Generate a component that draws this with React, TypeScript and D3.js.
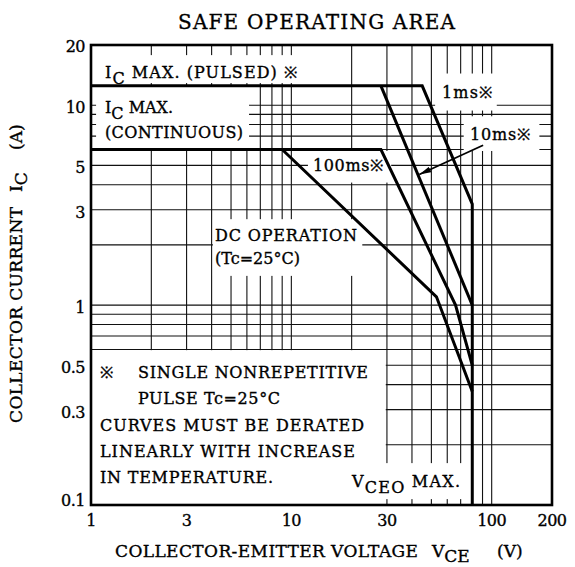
import React from "react";
import * as d3 from "d3";

// ---- data ----
const xTickValues = [1, 3, 10, 30, 100, 200];
const yTickValues = [0.1, 0.3, 0.5, 1, 3, 5, 10, 20];
const xGridValues = [2, 3, 4, 5, 6, 7, 8, 9, 10, 20, 30, 40, 50, 60, 70, 80, 90, 100];
const yGridValues = [0.2, 0.3, 0.4, 0.5, 0.6, 0.7, 0.8, 0.9, 1, 2, 3, 4, 5, 6, 7, 8, 9, 10];

// [VCE (V), IC (A)]
const curve1ms: [number, number][] = [[1, 12.5], [45, 12.5], [80, 3.2], [80, 0.1]];
const curve10ms: [number, number][] = [[28, 12.5], [80, 1.0]];
const curve100ms: [number, number][] = [[1, 6], [28, 6], [66, 1.0], [80, 0.5]];
const curveDC: [number, number][] = [[9, 6], [53, 1.1], [80, 0.37]];
const arrow10ms: [number, number][] = [[90.6, 6.3], [43.5, 4.5]];

// white label boxes that cut the grid, in data units [x0, x1, y0, y1]
const labelBoxes: [number, number, number, number][] = [
  [1.01, 11.5, 12.9, 17.8],
  [1.06, 6.15, 6, 12.5],
  [52.2, 106, 9.4, 14.4],
  [72.5, 173, 5.9, 8.8],
  [12.1, 31.5, 4.1, 5.9],
  [4.06, 22.6, 1.4, 2.69],
  [1.01, 29.6, 0.1, 0.595],
  [29.6, 76, 0.107, 0.162],
];

const W = 575;
const H = 567;
const FONT = "'DejaVu Serif', 'Liberation Serif', serif";

export default function App() {
  const x = d3.scaleLog().domain([1, 200]).range([91, 552]);
  const y = d3.scaleLog().domain([0.1, 20]).range([505, 45]);
  const line = d3
    .line<[number, number]>()
    .x((d) => x(d[0]))
    .y((d) => y(d[1]));

  const curves = [curve1ms, curve10ms, curve100ms, curveDC];

  const T = (props: any) => (
    <text
      fontFamily={FONT}
      fontSize={16}
      fill="#000"
      stroke="#000"
      strokeWidth={0.35}
      lengthAdjust="spacing"
      style={{ whiteSpace: "pre" }}
      {...props}
    />
  );

  return (
    <svg
      width={W}
      height={H}
      style={{ position: "absolute", left: 0, top: 0, background: "#fff" }}
    >
      <defs>
        <marker
          id="arrowHead"
          viewBox="0 0 12 6"
          refX={12}
          refY={3}
          markerWidth={12}
          markerHeight={6}
          markerUnits="userSpaceOnUse"
          orient="auto"
        >
          <path d="M0,0 L12,3 L0,6 z" fill="#000" />
        </marker>
      </defs>
      <rect x={0} y={0} width={W} height={H} fill="#fff" />

      {/* grid */}
      <g stroke="#111" strokeWidth={1.1}>
        {xGridValues.map((v) => (
          <line key={"gx" + v} x1={x(v)} x2={x(v)} y1={y(20)} y2={y(0.1)} />
        ))}
        {yGridValues.map((v) => (
          <line key={"gy" + v} x1={x(1)} x2={x(200)} y1={y(v)} y2={y(v)} />
        ))}
      </g>

      {/* label boxes */}
      <g fill="#fff">
        {labelBoxes.map((b, i) => (
          <rect
            key={"b" + i}
            x={x(b[0])}
            y={y(b[3])}
            width={x(b[1]) - x(b[0])}
            height={y(b[2]) - y(b[3])}
          />
        ))}
      </g>

      {/* curves */}
      <g fill="none" stroke="#000" strokeWidth={3} strokeLinejoin="miter">
        {curves.map((c, i) => (
          <path key={"c" + i} d={line(c) || ""} />
        ))}
      </g>
      <path
        d={line(arrow10ms) || ""}
        stroke="#000"
        strokeWidth={1.8}
        fill="none"
        markerEnd="url(#arrowHead)"
      />

      {/* frame */}
      <rect
        x={x(1)}
        y={y(20)}
        width={x(200) - x(1)}
        height={y(0.1) - y(20)}
        fill="none"
        stroke="#000"
        strokeWidth={2.6}
      />

      {/* tick labels */}
      {yTickValues.map((v) => (
        <T
          key={"yt" + v}
          x={85}
          y={y(v) + (v === 0.1 ? 1 : v === 20 ? 7 : 8)}
          textAnchor="end"
          letterSpacing={-0.5}
        >
          {String(v)}
        </T>
      ))}
      {xTickValues.map((v) => (
        <T
          key={"xt" + v}
          x={x(v)}
          y={526}
          textAnchor="middle"
          letterSpacing={-0.5}
        >
          {String(v)}
        </T>
      ))}

      {/* title */}
      <T x={178} y={29} fontSize={20} textLength={277}>
        SAFE OPERATING AREA
      </T>

      {/* axis titles */}
      <T x={115} y={557} fontSize={17} textLength={303}>
        COLLECTOR-EMITTER VOLTAGE
      </T>
      <T x={432} y={557} fontSize={17}>
        V<tspan dy={5}>CE</tspan>
      </T>
      <T x={497} y={557} fontSize={17}>
        (V)
      </T>
      <g transform="translate(22,0) rotate(-90)">
        <T x={-423} y={0} fontSize={17} textLength={216}>
          COLLECTOR CURRENT
        </T>
        <T x={-192} y={0} fontSize={17}>
          I<tspan dy={5}>C</tspan>
        </T>
        <T x={-150} y={0} fontSize={17}>
          (A)
        </T>
      </g>

      {/* annotations */}
      <T x={105} y={78} textLength={192}>
        I<tspan dy={6}>C</tspan>
        <tspan dy={-6}> MAX. (PULSED) ※</tspan>
      </T>
      <T x={105} y={113}>
        I<tspan dy={6}>C</tspan>
        <tspan dy={-6}> MAX.</tspan>
      </T>
      <T x={105} y={138} textLength={138}>
        (CONTINUOUS)
      </T>
      <T x={442} y={98} textLength={50}>
        1ms※
      </T>
      <T x={470} y={140} textLength={60}>
        10ms※
      </T>
      <T x={313} y={171} textLength={70}>
        100ms※
      </T>
      <T x={215} y={241} textLength={142}>
        DC OPERATION
      </T>
      <T x={215} y={264} textLength={85}>
        (Tc=25°C)
      </T>
      <T x={100} y={378}>
        ※
      </T>
      <T x={138} y={378} textLength={230}>
        SINGLE NONREPETITIVE
      </T>
      <T x={138} y={404} textLength={142}>
        PULSE Tc=25°C
      </T>
      <T x={100} y={431} textLength={264}>
        CURVES MUST BE DERATED
      </T>
      <T x={100} y={457} textLength={255}>
        LINEARLY WITH INCREASE
      </T>
      <T x={100} y={483} textLength={173}>
        IN TEMPERATURE.
      </T>
      <T x={352} y={487} textLength={108}>
        V<tspan dy={6}>CEO</tspan>
        <tspan dy={-6}> MAX.</tspan>
      </T>
    </svg>
  );
}
